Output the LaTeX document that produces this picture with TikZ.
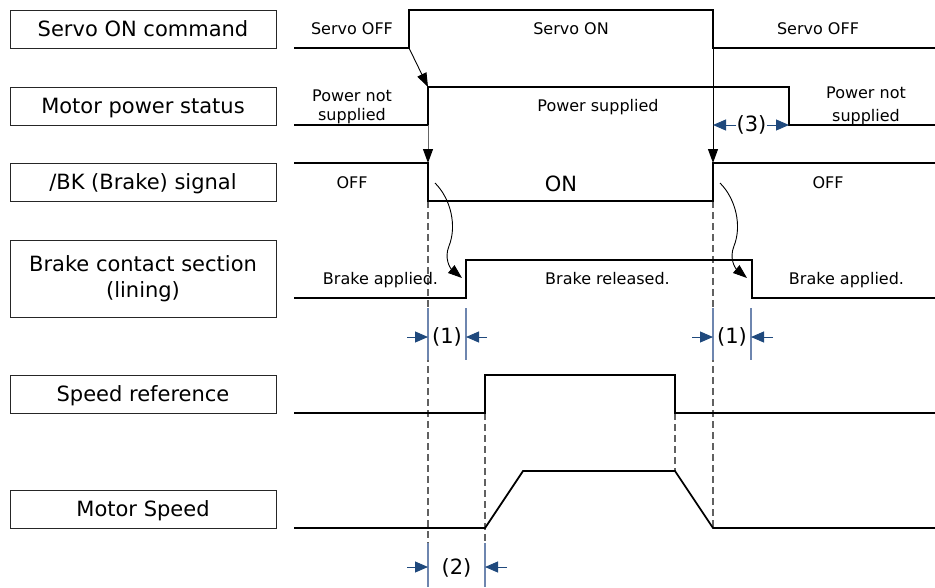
\documentclass[tikz,border=0pt]{standalone}
\usepackage{fontspec}
\setmainfont{DejaVu Sans}
\usetikzlibrary{arrows.meta}
\definecolor{dimblue}{RGB}{31,73,125}
\definecolor{extblue}{RGB}{110,134,175}
\begin{document}
\begin{tikzpicture}[x=1pt,y=-1pt,
  lbl/.style={draw=black!85, line width=0.9pt, minimum width=266pt, minimum height=38pt,
    inner sep=0pt, font=\fontsize{21}{25.5}\selectfont, align=center},
  onel/.style={text height=15pt, text depth=0pt},
  sig/.style={line width=1.8pt, line join=miter},
  txt/.style={font=\fontsize{16}{19}\selectfont, inner sep=0pt, anchor=base},
  bigtxt/.style={font=\fontsize{21}{25}\selectfont, inner sep=0pt},
  guide/.style={draw=black!62, line width=1.1pt, dash pattern=on 7pt off 4pt},
  extline/.style={draw=extblue, line width=1.1pt},
  dimarrow/.style={draw=dimblue, line width=1pt, -{Triangle[length=13pt,width=11pt]}},
  cause/.style={line width=0.9pt, -{Triangle[length=14pt,width=10pt,color=black]}},
]
\useasboundingbox (0,0) rectangle (935,587);

% ---------- label boxes ----------
\node[lbl,onel] (l1) at (143,29) {Servo ON command};
\node[lbl,onel] (l2) at (143,106) {Motor power status};
\node[lbl,onel] (l3) at (143,182) {/BK (Brake) signal};
\node[lbl,minimum height=77pt] (l4) at (143,278.5) {Brake contact section\\(lining)};
\node[lbl,onel] (l5) at (143,394) {Speed reference};
\node[lbl,onel] (l6) at (143,509) {Motor Speed};

% ---------- key coordinates ----------
\coordinate (svLow) at (409,48);
\coordinate (mpRise) at (428,87);
\coordinate (mpLowR) at (428,125);
\coordinate (bkHiL) at (428,163);
\coordinate (svFall) at (713,48);
\coordinate (bkHiR) at (713,163);
\coordinate (mpFall) at (789,125);
\coordinate (c1s) at (435,183);
\coordinate (c1e) at (462,278);
\coordinate (c2s) at (720,183);
\coordinate (c2e) at (747,278);

% ---------- dashed guides ----------
\draw[guide] (428,201) -- (428,543);
\draw[guide] (713,201) -- (713,528);
\draw[guide] (485,413) -- (485,543);
\draw[guide] (675,413) -- (675,471);

% ---------- waveforms ----------
\draw[sig] (294,48) -- (409,48) -- (409,10) -- (713,10) -- (713,48) -- (935,48);
\draw[sig] (294,125) -- (428,125) -- (428,87) -- (789,87) -- (789,125) -- (935,125);
\draw[sig] (294,163) -- (428,163) -- (428,201) -- (713,201) -- (713,163) -- (935,163);
\draw[sig] (294,298) -- (466,298) -- (466,260) -- (752,260) -- (752,298) -- (935,298);
\draw[sig] (294,413) -- (485,413) -- (485,375) -- (675,375) -- (675,413) -- (935,413);
\draw[sig] (294,528) -- (485,528) -- (523,471) -- (675,471) -- (713,528) -- (935,528);

% ---------- cause arrows ----------
\draw[cause] (svLow) -- (mpRise);
\draw[cause, draw=black!60] (mpLowR) -- (bkHiL);
\draw[cause] (svFall) -- (bkHiR);
\draw[cause] (c1s) .. controls (451,199) and (457,226) .. (449,246)
  .. controls (444,258) and (450,268) .. (c1e);
\draw[cause] (c2s) .. controls (736,199) and (742,226) .. (734,246)
  .. controls (729,258) and (735,268) .. (c2e);

% ---------- signal texts ----------
\node[txt] (t1) at (352,34) {Servo OFF};
\node[txt] (t2) at (571,34) {Servo ON};
\node[txt] (t3) at (818,34) {Servo OFF};
\node[txt] (t4a) at (352,101.5) {Power not};
\node[txt] (t4b) at (352,120.5) {supplied};
\node[txt] (t5) at (598,111) {Power supplied};
\node[txt] (t6a) at (866,98) {Power not};
\node[txt] (t6b) at (866,121.5) {supplied};
\node[txt] (t7) at (352,188) {OFF};
\node[bigtxt, anchor=base] (t8) at (561,191) {ON};
\node[txt] (t9) at (828,188) {OFF};
\node[txt] (t10) at (380.5,284) {Brake applied.};
\node[txt] (t11) at (607.5,284) {Brake released.};
\node[txt] (t12) at (846.5,284) {Brake applied.};

% ---------- dimensions ----------
\draw[extline] (428,308) -- (428,360);
\draw[extline] (466,308) -- (466,360);
\draw[extline] (713,308) -- (713,360);
\draw[extline] (751,308) -- (751,360);
\draw[extline] (428,543) -- (428,587);
\draw[extline] (485,543) -- (485,587);

\coordinate (d1l) at (428,337);
\coordinate (d1r) at (466,337);
\coordinate (d1la) at (407,337);
\coordinate (d1ra) at (487,337);
\coordinate (d2l) at (713,337);
\coordinate (d2r) at (751,337);
\coordinate (d2la) at (692,337);
\coordinate (d2ra) at (773,337);
\coordinate (d3l) at (428,567);
\coordinate (d3r) at (485,567);
\coordinate (d3la) at (407,567);
\coordinate (d3ra) at (507,567);

\node[bigtxt] (n1) at (447,337) {(1)};
\node[bigtxt] (n2) at (732,337) {(1)};
\node[bigtxt] (n3) at (456.5,568) {(2)};
\node[bigtxt] (n4) at (751.5,125) {(3)};

\draw[dimarrow] (d1la) -- (d1l);
\draw[dimarrow] (d1ra) -- (d1r);
\draw[dimarrow] (d2la) -- (d2l);
\draw[dimarrow] (d2ra) -- (d2r);
\draw[dimarrow] (d3la) -- (d3l);
\draw[dimarrow] (d3ra) -- (d3r);
\draw[dimarrow] (n4.west) -- (svFall |- n4.west);
\draw[dimarrow] (n4.east) -- (mpFall);
\end{tikzpicture}
\end{document}
